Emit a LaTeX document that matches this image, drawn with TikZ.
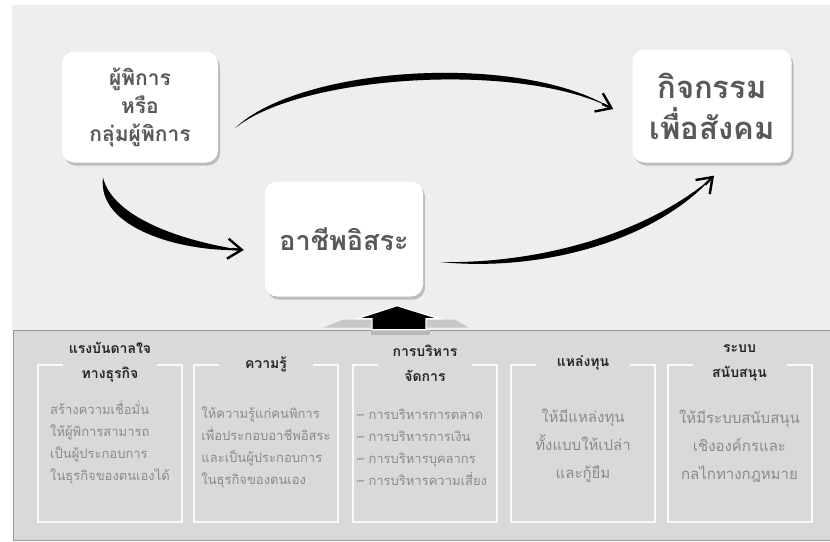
\documentclass[tikz,border=0pt]{standalone}
\usepackage{fontspec}
\setmainfont[Script=Thai]{Loma}
\usetikzlibrary{shadows,arrows.meta,calc}

\definecolor{uppergray}{HTML}{EEEEEE}
\definecolor{lowergray}{HTML}{D9D9D9}
\definecolor{boxtext}{HTML}{595959}
\definecolor{bodytext}{HTML}{8A8A8A}

\begin{document}
\begin{tikzpicture}[x=1pt, y=-1pt,
    topbox/.style={fill=white, rounded corners=12pt, align=center, text=boxtext,
      drop shadow={shadow xshift=2pt, shadow yshift=-3pt, opacity=.45}},
    curvearrow/.style={fill=black},
    curveshadow/.style={fill=black, opacity=.18},
    barb/.style={line width=2.4pt, -{Straight Barb[length=14pt, width=20pt]}},
    colbox/.style={draw=white!85!lowergray, line width=2pt},
    coltitle/.style={fill=lowergray, align=center, minimum width=94pt, inner ysep=1pt,
      font=\fontsize{14}{25}\selectfont\bfseries, text=black!85},
    colbody/.style={text=bodytext, font=\fontsize{13}{22}\selectfont}]
        \useasboundingbox (0,0) rectangle (830,541);
        
        % panels
        \fill[white] (0,0) rectangle (830,541);
        \fill[uppergray] (12,5) rectangle (830,330);
        \filldraw[fill=lowergray, draw=black!40] (13,330) rectangle (830,540);
        
        % upper boxes
        \node[topbox, minimum width=156pt, minimum height=111pt,
          font=\fontsize{21}{28}\selectfont\bfseries] (disabled) at (140,107) {ผู้พิการ\\หรือ\\กลุ่มผู้พิการ};
        \node[topbox, minimum width=159pt, minimum height=113pt,
          font=\fontsize{31}{41}\selectfont\bfseries] (social) at (712,106) {กิจกรรม\\เพื่อสังคม};
        \node[topbox, minimum width=158pt, minimum height=115pt,
          font=\fontsize{27}{30}\selectfont\bfseries] (career) at (344,239) {อาชีพอิสระ};
        
        \coordinate (a1s) at ($(disabled.east)+(17,21)$);
        \coordinate (a1e) at ($(social.west)+(-21,2)$);
        \coordinate (a2s) at ($(disabled.south)+(-37,15)$);
        \coordinate (a2e) at ($(career.west)+(-23,11)$);
        \coordinate (a3s) at ($(career.east)+(17,23)$);
        \coordinate (a3e) at ($(social.south)+(0,15)$);
        
        % curved arrows, shadow first
        \begin{scope}[shift={(3,5)}]
        \fill[curveshadow] (a1s) .. controls +(65,-62) and +(-92,-56) .. (a1e) .. controls +(-92,-47) and +(65,-53) .. (a1s);
        \fill[curveshadow] (a2s) .. controls +(10,40) and +(-60,-9) .. (a2e) .. controls +(-62,2) and +(-6,50) .. (a2s);
        \fill[curveshadow] (a3s) .. controls +(100,2) and +(-66,56) .. (a3e) .. controls +(-58,64) and +(100,10) .. (a3s);
        \end{scope}
        \fill[curvearrow] (a1s) .. controls +(65,-62) and +(-92,-56) .. (a1e) .. controls +(-92,-47) and +(65,-53) .. (a1s);
        \fill[curvearrow] (a2s) .. controls +(10,40) and +(-60,-9) .. (a2e) .. controls +(-62,2) and +(-6,50) .. (a2s);
        \fill[curvearrow] (a3s) .. controls +(100,2) and +(-66,56) .. (a3e) .. controls +(-58,64) and +(100,10) .. (a3s);
        \draw[barb] ($(a1e)+(-9,-4)$) -- ($(a1e)+(2,1)$);
        \draw[barb] ($(a2e)+(-10,-1)$) -- ($(a2e)+(2,0)$);
        \draw[barb] ($(a3e)+(-7,7)$) -- ($(a3e)+(2,-2)$);
        
        % block arrow up to the career box
        \coordinate (tip) at ($(career.south)+(53,9)$);
        \fill[black!22] ($(tip)+(-74,22)$) -- ($(tip)+(-54,14)$) -- ($(tip)+(58,14)$) -- ($(tip)+(72,22)$) -- cycle;
        \fill[black!28] ($(tip)+(-26,24)$) rectangle ($(tip)+(33,29)$);
        \filldraw[fill=black, draw=white, line width=1.2pt] (tip) -- ++(-40,13) -- ++(15,0) -- ++(0,11)
          -- ++(54,0) -- ++(0,-11) -- ++(13,0) -- cycle;
        
        % lower columns
        \foreach \cx in {110,266,425,583,739.5}
          \draw[colbox] (\cx-72,365) rectangle (\cx+72,522);
        
        \node[coltitle] (inspire) at (110,362) {แรงบันดาลใจ\\ทางธุรกิจ};
        \node[coltitle] (knowledge) at (266,364) {ความรู้};
        \node[coltitle] (manage) at (425,363) {การบริหาร\\จัดการ};
        \node[coltitle] (fund) at (583,363) {แหล่งทุน};
        \node[coltitle] (support) at (739.5,363) {ระบบ\\สนับสนุน};
        
        \node[colbody, align=left] (inspire text) at (110,443) {สร้างความเชื่อมั่น\\ให้ผู้พิการสามารถ\\เป็นผู้ประกอบการ\\ในธุรกิจของตนเองได้};
        \node[colbody, align=left] (knowledge text) at (266,447) {ให้ความรู้แก่คนพิการ\\เพื่อประกอบอาชีพอิสระ\\และเป็นผู้ประกอบการ\\ในธุรกิจของตนเอง};
        \node[colbody, align=left] (manage text) at (422,447) {– การบริหารการตลาด\\– การบริหารการเงิน\\– การบริหารบุคลากร\\– การบริหารความเสี่ยง};
        \node[colbody, align=center, font=\fontsize{15}{28}\selectfont] (fund text) at (583,446) {ให้มีแหล่งทุน\\ทั้งแบบให้เปล่า\\และกู้ยืม};
        \node[colbody, align=center, font=\fontsize{15}{28}\selectfont] (support text) at (739.5,446) {ให้มีระบบสนับสนุน\\เชิงองค์กรและ\\กลไกทางกฎหมาย};
    \end{tikzpicture}
\end{document}
